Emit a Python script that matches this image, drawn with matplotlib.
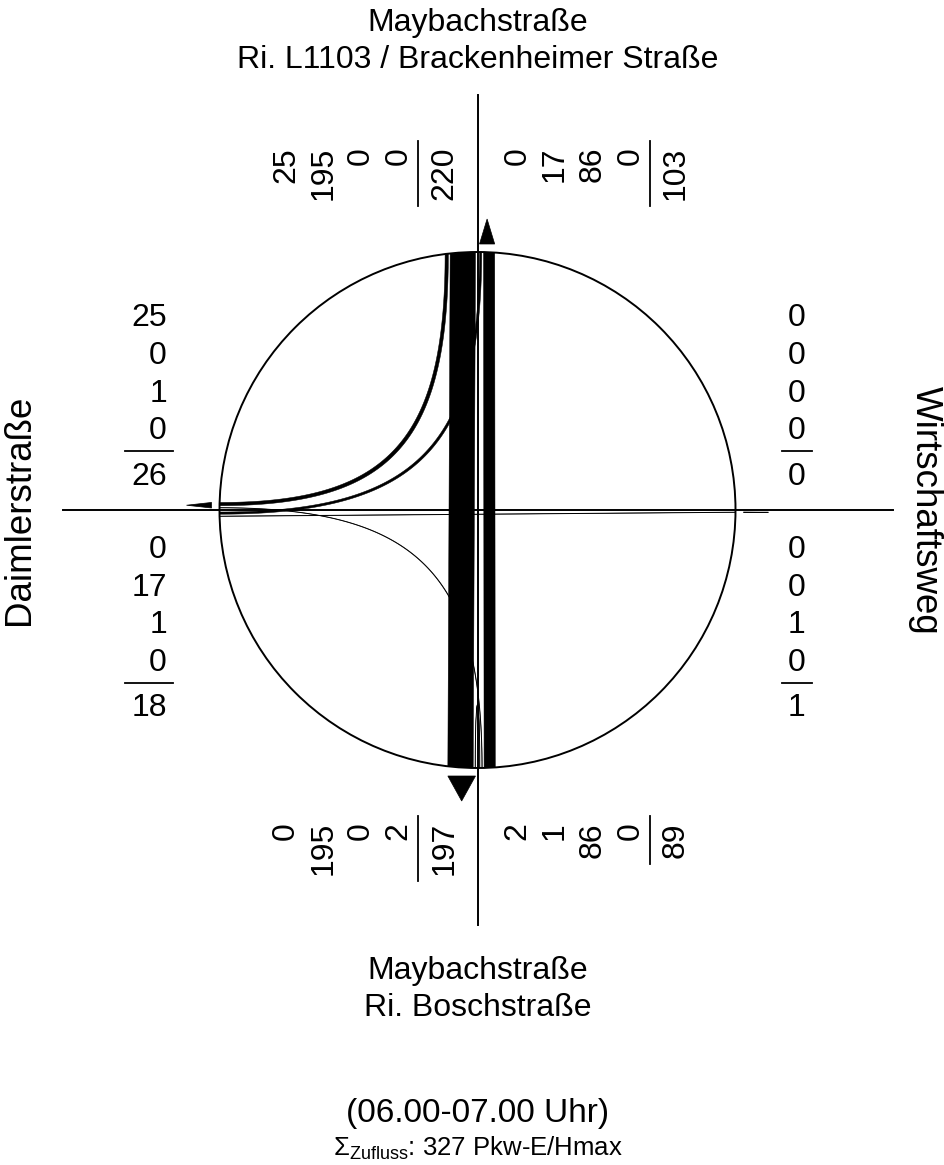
import numpy as np
import matplotlib.pyplot as plt
from matplotlib.patches import Polygon, Circle

plt.rcParams["font.family"] = ["Liberation Sans", "DejaVu Sans"]
plt.rcParams["mathtext.fontset"] = "custom"
plt.rcParams["mathtext.rm"] = "Liberation Sans"
plt.rcParams["mathtext.it"] = "Liberation Sans:italic"
plt.rcParams["mathtext.bf"] = "Liberation Sans:bold"

# Knotenarme im Uhrzeigersinn: Nord, Ost, Sued, West
arm_namen = [
    ["Maybachstraße", "Ri. L1103 / Brackenheimer Straße"],
    ["Wirtschaftsweg"],
    ["Maybachstraße", "Ri. Boschstraße"],
    ["Daimlerstraße"],
]

# Stroeme in Pkw-E/h, jeweils nach [Nord, Ost, Sued, West]
von_nord = [0, 0, 195, 25]
von_ost = [0, 0, 0, 0]
von_sued = [86, 0, 2, 1]
von_west = [17, 1, 0, 0]

zeitraum = "(06.00-07.00 Uhr)"
einheit = "Pkw-E/Hmax"

# Layout (Pixel)
W, H = 944, 1165
CX, CY, R = 477.5, 510.0, 258.0
SKALA = 0.13    # px pro Pkw-E
ABST = 2.0      # Abstand zur Achse
TRENN = 1.8     # Luecke zwischen zwei Stroemen
WMIN = 0.5
K = 0.75        # Form der Abbiegekurven
FS = 23
FS_SEITE = 26.5
FS_SUMME = 18.5

RICHT = [np.array([0.0, -1.0]), np.array([1.0, 0.0]),
         np.array([0.0, 1.0]), np.array([-1.0, 0.0])]


def rechts(d):
    return np.array([-d[1], d[0]])


def bezier(p0, p1, p2, p3, n=120):
    t = np.linspace(0, 1, n)[:, None]
    return ((1 - t) ** 3 * p0 + 3 * (1 - t) ** 2 * t * p1
            + 3 * (1 - t) * t ** 2 * p2 + t ** 3 * p3)


def ziel_reihe(a):
    # von der Achse nach aussen: Wende, links, geradeaus, rechts
    return [a, (a + 1) % 4, (a + 2) % 4, (a + 3) % 4]


def quell_reihe(b):
    return [b, (b + 3) % 4, (b + 2) % 4, (b + 1) % 4]


M = [von_nord, von_ost, von_sued, von_west]
c = np.array([CX, CY])

# Lage der Stroeme am Kreisrand
zu = {}
ab = {}
ab_breite = {}
for a in range(4):
    pos = ABST
    for b in ziel_reihe(a):
        v = M[a][b]
        if v > 0:
            w = max(v * SKALA, WMIN)
            zu[(a, b)] = (pos, pos + w)
            pos += w + TRENN
for b in range(4):
    pos = ABST
    for a in quell_reihe(b):
        v = M[a][b]
        if v > 0:
            w = max(v * SKALA, WMIN)
            ab[(a, b)] = (pos, pos + w)
            pos += w + TRENN
    ab_breite[b] = (ABST, pos - TRENN)


def rand(a, b, o, q):
    da, db = RICHT[a], RICHT[b]
    p0 = c - rechts(da) * o + da * np.sqrt(R ** 2 - o ** 2)
    p3 = c + rechts(db) * q + db * np.sqrt(R ** 2 - q ** 2)
    if b == (a + 2) % 4:
        return np.array([p0, p3])
    if b == a:
        h = 85
        return bezier(p0, p0 - da * h, p3 - da * h, p3)
    t = np.dot(p3 - p0, -da)
    ecke = p0 - da * t
    return bezier(p0, p0 + K * (ecke - p0), p3 + K * (ecke - p3), p3)


fig = plt.figure(figsize=(W / 100, H / 100), dpi=100)
ax = fig.add_axes([0, 0, 1, 1])
ax.set_xlim(0, W)
ax.set_ylim(H, 0)
ax.axis("off")

# Achsen
ax.plot([CX, CX], [CY - 415, CY + 415], color="black", lw=1.4, zorder=1)
ax.plot([CX - 415, CX + 415], [CY, CY], color="black", lw=1.4, zorder=1)

# Stroeme
for (a, b), (o1, o2) in zu.items():
    q1, q2 = ab[(a, b)]
    pts = np.vstack([rand(a, b, o1, q1), rand(a, b, o2, q2)[::-1]])
    ax.add_patch(Polygon(pts, closed=True, fc="black", ec="black",
                         lw=0.35, zorder=2))

ax.add_patch(Circle((CX, CY), R, fill=False, ec="black", lw=1.4, zorder=3))

# Pfeile fuer die Abfluesse
for b in range(4):
    if sum(M[a][b] for a in range(4)) == 0:
        continue
    lo, hi = ab_breite[b]
    d, r = RICHT[b], rechts(RICHT[b])
    basis = c + d * (R + 8)
    spitze = c + d * (R + 33) + r * (lo + hi) / 2
    ax.add_patch(Polygon([basis + r * lo, basis + r * hi, spitze], closed=True,
                         fc="black", ec="black", lw=0.5, zorder=3))

# Zahlen an den Armen
ziff = 0.556 * FS * 100 / 72
for i in range(4):
    d = RICHT[i]
    zu_werte = [M[i][b] for b in ziel_reihe(i)]
    ab_werte = [M[a][i] for a in quell_reihe(i)]
    if rechts(d).sum() > 0:
        gruppen = [(zu_werte[::-1], -1), (ab_werte, 1)]
    else:
        gruppen = [(ab_werte[::-1], -1), (zu_werte, 1)]
    for werte, sg in gruppen:
        texte = [str(v) for v in werte] + [str(sum(werte))]
        if sg < 0:
            offs = [-195 + 37.6 * j for j in range(4)] + [-36.5]
            strich = -59.5
        else:
            offs = [36.5 + 37.6 * j for j in range(4)] + [195]
            strich = 172.5
        lmax = max(len(t) for t in texte) * ziff
        if i in (0, 2):
            ya = CY - 363 if i == 0 else CY + 312
            for t, o in zip(texte, offs):
                ax.text(CX + o, ya, t, rotation=90, rotation_mode="anchor",
                        ha="right", va="center_baseline", fontsize=FS)
            ax.plot([CX + strich] * 2, [ya - 6, ya + lmax + 6],
                    color="black", lw=1.3)
        else:
            if i == 3:
                xa, ha, e0, e1 = CX - 310.5, "right", CX - 310.5 - lmax, CX - 310.5
            else:
                xa, ha, e0, e1 = CX + 310.5, "left", CX + 310.5, CX + 310.5 + lmax
            for t, o in zip(texte, offs):
                ax.text(xa, CY + o, t, ha=ha, va="center_baseline", fontsize=FS)
            ax.plot([e0 - 6, e1 + 6], [CY + strich] * 2, color="black", lw=1.3)

# Namen der Arme
for j, zeile in enumerate(arm_namen[0]):
    ax.text(CX, CY - 490 + 37 * j, zeile, ha="center", va="center_baseline", fontsize=FS)
for j, zeile in enumerate(arm_namen[2]):
    ax.text(CX, CY + 457 + 37 * j, zeile, ha="center", va="center_baseline", fontsize=FS)
ax.text(20, CY, arm_namen[3][0], rotation=90, rotation_mode="anchor",
        ha="center", va="center", fontsize=FS_SEITE)
ax.text(925, CY, arm_namen[1][0], rotation=270, rotation_mode="anchor",
        ha="center", va="center", fontsize=FS_SEITE)

# Fusszeile
summe = sum(sum(z) for z in M)
ax.text(CX, 1110, zeitraum, ha="center", va="center_baseline", fontsize=24)
ax.text(CX, 1145, f"$\\Sigma_{{\\mathrm{{Zufluss}}}}$: {summe} {einheit}",
        ha="center", va="center_baseline", fontsize=FS_SUMME)

fig.savefig("out.png", dpi=100)
